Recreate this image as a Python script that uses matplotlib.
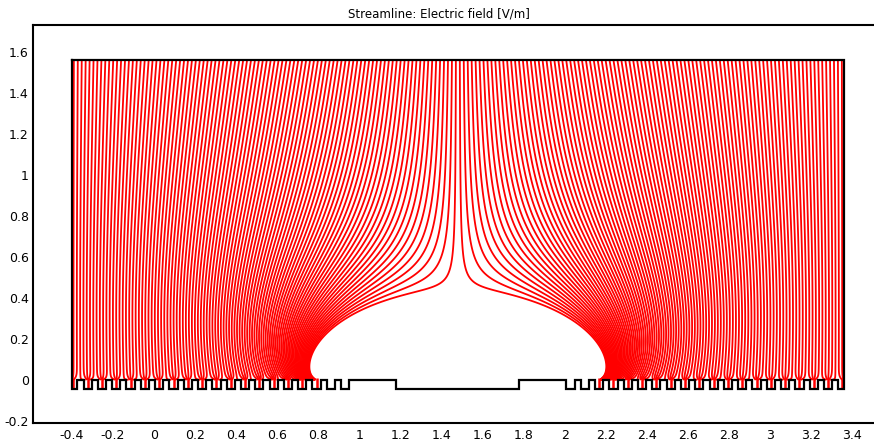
import numpy as np
import matplotlib
matplotlib.use('Agg')
import matplotlib.pyplot as plt

plt.rcParams['axes.unicode_minus'] = False
plt.rcParams['font.family'] = ['DejaVu Sans']

# Geometry (model units)
x_left, x_right = -0.4, 3.36
y_top, y_teeth, y_floor = 1.56, 0.0, -0.043
trough_half = 0.02

# Trough centres of the two combs that collect field lines
left_troughs = [-0.393, -0.323, -0.254, -0.184, -0.114, -0.045, 0.025, 0.095, 0.164,
                0.234, 0.304, 0.374, 0.443, 0.513, 0.583, 0.652, 0.722, 0.792]
right_troughs = [2.168, 2.238, 2.308, 2.377, 2.447, 2.517, 2.586, 2.656, 2.726,
                 2.796, 2.865, 2.935, 3.005, 3.074, 3.144, 3.214, 3.283, 3.353]
# Troughs without field lines, and the wide one in the middle
idle_troughs = [0.862, 0.931, 2.029, 2.098]
centre_trough = (1.18, 1.78)
# Central pad region (its own field lines are not drawn)
pad_span = (0.84, 2.12)
pad_flux = 2.4
pad_edge = 0.5
pad_share = [0.95, 0.05]   # innermost finger, next finger

n_lines = 196

x_ticks = [-0.4, -0.2, 0, 0.2, 0.4, 0.6, 0.8, 1, 1.2, 1.4, 1.6, 1.8, 2, 2.2, 2.4,
           2.6, 2.8, 3, 3.2, 3.4]
y_ticks = [-0.2, 0, 0.2, 0.4, 0.6, 0.8, 1, 1.2, 1.4, 1.6]

# ---- field model: uniform flux in at the top, line sinks at the fingers
L = x_right - x_left
H = y_top - y_teeth
xc = 0.5 * (x_left + x_right)
fingers = np.array(left_troughs + right_troughs)
nf = len(fingers)
k = np.arange(1, 1401) * np.pi / L
coth = 1.0 / np.tanh(np.minimum(k * H, 50))

Cf = np.cos(np.outer(fingers - x_left, k))
g = np.exp(-(k * 0.0175) ** 2 / 2)
G = (Cf * g * (2 / L * coth / k)) @ (Cf * g).T
A = np.zeros((nf + 1, nf + 1))
A[:nf, :nf] = G
A[:nf, nf] = -1
A[nf, :nf] = 1
rhs = np.zeros(nf + 1)
rhs[nf] = L
q = np.linalg.solve(A, rhs)[:nf]

# pad emits flux that ends on the innermost fingers
pad = np.arange(pad_span[0] + 0.005, pad_span[1], 0.01)
u = (pad - xc) / (0.5 * (pad_span[1] - pad_span[0]))
prof = (1 - pad_edge) + pad_edge / np.sqrt(1 - u ** 2)
s = -pad_flux * prof / prof.sum()
Cp = np.cos(np.outer(pad - x_left, k))
i_in = len(left_troughs) - 1
q[i_in] += pad_share[0] * pad_flux / 2
q[i_in - 1] += pad_share[1] * pad_flux / 2
q[i_in + 1] += pad_share[0] * pad_flux / 2
q[i_in + 2] += pad_share[1] * pad_flux / 2

w = 0.005
f = (2 / L) * (Cf.T @ q + Cp.T @ s) * np.exp(-(k * w) ** 2 / 2)
xg = np.linspace(x_left, x_right, 1501)
yg = H * np.linspace(0, 1, 700) ** 1.6
S = np.sin(np.outer(xg - x_left, k))
decay = (np.exp(-np.outer(k, yg)) * (1 - np.exp(-2 * np.outer(k, H - yg)))
         / (1 - np.exp(-2 * k * H))[:, None])
psi = (xg - x_left)[:, None] + S @ ((f / k)[:, None] * decay)

# ---- figure
fig = plt.figure(figsize=(8.74, 4.41), dpi=100)
ax = fig.add_axes([33 / 874, 18 / 441, 843 / 874, 398 / 441])
scale = 205.3
ax.set_xlim((33 - 154) / scale, (876 - 154) / scale)
ax.set_ylim(-(423 - 380) / scale, (380 - 25) / scale)

levels = L * (np.arange(n_lines) + 0.5) / n_lines
ic = np.searchsorted(xg, xc)
ax.contour(xg[:ic + 1], yg + y_teeth, psi[:ic + 1].T, levels=levels[levels < L / 2],
           colors='red', linewidths=1.3)
ax.contour(xg[ic:], yg + y_teeth, psi[ic:].T, levels=levels[levels > L / 2],
           colors='red', linewidths=1.3)
ax.vlines(fingers, y_floor, y_teeth + 0.01, colors='red', linewidth=1.8)

# boundary outline
intervals = sorted([(c - trough_half, c + trough_half)
                    for c in left_troughs + right_troughs + idle_troughs] + [centre_trough])
bx, by = [x_left], [y_top]
for a, b in intervals:
    a, b = max(a, x_left), min(b, x_right)
    bx += [a, a, b, b]
    by += [y_teeth, y_floor, y_floor, y_teeth]
bx += [x_right, x_right, x_left]
by += [y_teeth, y_top, y_top]
ax.plot(bx, by, color='black', lw=1.6, solid_joinstyle='miter', zorder=5)

ax.set_xticks(x_ticks)
ax.set_xticklabels(['%g' % t for t in x_ticks])
ax.set_yticks(y_ticks)
ax.set_yticklabels(['%g' % t for t in y_ticks])
ax.tick_params(length=0, labelsize=9)
ax.tick_params(axis='x', pad=4)
ax.tick_params(axis='y', pad=3)
for sp in ax.spines.values():
    sp.set_linewidth(1.5)

fig.text(439 / 874, 1 - 14 / 441, 'Streamline: Electric field [V/m]',
         ha='center', va='center', fontsize=8.5)

fig.savefig('out.png', dpi=100)
